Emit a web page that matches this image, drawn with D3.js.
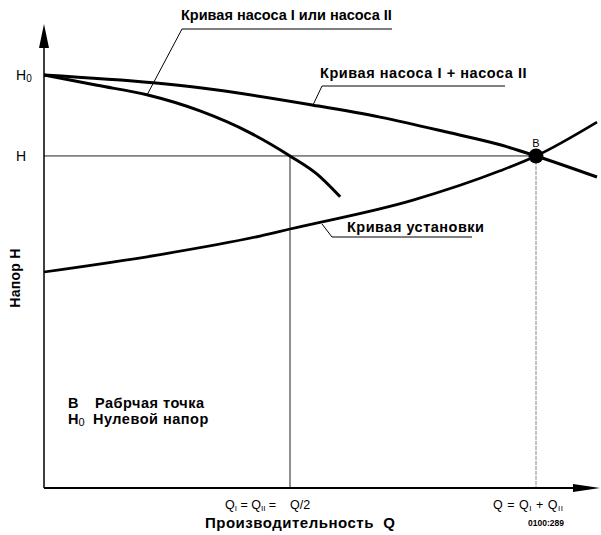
<!DOCTYPE html>
<html><head><meta charset="utf-8">
<script src="https://cdn.jsdelivr.net/npm/d3@7"></script>
<style>body{margin:0;background:#fff}svg{display:block}text{font-family:"Liberation Sans",Arial,sans-serif}</style>
</head><body>
<script>
// Data (Q in % of operating flow, H in % of shut-off head)
const singleQ = [0, 10.8, 20.9, 31.7, 41.9, 50, 55.5, 60.2];
const singleH = [100, 97.5, 95.2, 91.3, 86.0, 80.4, 76.0, 70.5];
const combinedQ = [0, 22.2, 31.7, 54.7, 68.3, 82.5, 92.7, 100, 112.4];
const combinedH = [100, 98.1, 96.9, 92.7, 89.8, 86.0, 83.1, 80.4, 75.3];
const systemQ = [0, 23.0, 43.9, 50, 75, 92.7, 100, 112.4];
const systemH = [52.3, 56.4, 61.0, 62.7, 69.7, 76.8, 80.4, 88.6];
const opPointQ = 100, opPointH = 80.4;
const halfQ = 50;
const headTicks = [{v:100, label:"H", sub:"0"}, {v:80.4, label:"H", sub:""}];

const W = 601, H = 535;
const svg = d3.select("body").append("svg").attr("width", W).attr("height", H);
const x = d3.scaleLinear().domain([0, 100]).range([44, 536]);
const y = d3.scaleLinear().domain([0, 100]).range([488, 75]);

const zip = (a, b) => a.map((v, i) => [v, b[i]]);
const line = d3.line().x(d => x(d[0])).y(d => y(d[1])).curve(d3.curveMonotoneX);

// reference lines
svg.append("line").attr("x1", x(0)).attr("x2", x(opPointQ)).attr("y1", y(opPointH)).attr("y2", y(opPointH))
  .attr("stroke", "#222").attr("stroke-width", 1);
svg.append("line").attr("x1", x(halfQ)).attr("x2", x(halfQ)).attr("y1", y(opPointH)).attr("y2", y(0))
  .attr("stroke", "#222").attr("stroke-width", 1);
svg.append("line").attr("x1", x(opPointQ)).attr("x2", x(opPointQ)).attr("y1", y(opPointH)).attr("y2", y(0))
  .attr("stroke", "#888").attr("stroke-width", 1).attr("stroke-dasharray", "4,1");

// axes
const xMax = x.invert(575), yMax = y.invert(46);
svg.append("line").attr("x1", x(0)).attr("x2", x(xMax)).attr("y1", y(0)).attr("y2", y(0))
  .attr("stroke", "#000").attr("stroke-width", 2);
svg.append("line").attr("x1", x(0)).attr("x2", x(0)).attr("y1", y(0)).attr("y2", y(yMax))
  .attr("stroke", "#000").attr("stroke-width", 1.5);
svg.append("path").attr("d", `M${x(xMax)-2},${y(0)-4} L600,${y(0)} L${x(xMax)-2},${y(0)+4} Z`).attr("fill", "#000");
svg.append("path").attr("d", `M${x(0)-5},${y(yMax)+2} L${x(0)},24 L${x(0)+5},${y(yMax)+2} Z`).attr("fill", "#000");

// curves
svg.append("path").attr("d", line(zip(singleQ, singleH))).attr("fill", "none").attr("stroke", "#000").attr("stroke-width", 3);
svg.append("path").attr("d", line(zip(combinedQ, combinedH))).attr("fill", "none").attr("stroke", "#000").attr("stroke-width", 3);
svg.append("path").attr("d", line(zip(systemQ, systemH))).attr("fill", "none").attr("stroke", "#000").attr("stroke-width", 2.7);

// operating point
svg.append("circle").attr("cx", x(opPointQ)).attr("cy", y(opPointH)).attr("r", 7.5).attr("fill", "#000");
svg.append("text").attr("x", x(opPointQ)).attr("y", 147).attr("text-anchor", "middle").attr("font-size", 11).text("B");

// leader lines
function leader(pts){ svg.append("path").attr("d", d3.line()(pts)).attr("fill","none").attr("stroke","#000").attr("stroke-width",1); }
leader([[392, 29], [182, 29], [147, 95]]);
leader([[505, 86], [322, 86], [313, 105]]);
leader([[472, 237], [332, 237], [322, 224]]);

// curve labels
svg.append("text").attr("x", 181).attr("y", 20).attr("font-size", 14.5).attr("font-weight", "bold").text("Кривая насоса I или насоса II");
svg.append("text").attr("x", 320).attr("y", 78).attr("font-size", 14.5).attr("letter-spacing", 0.55).attr("font-weight", "bold").text("Кривая насоса I + насоса II");
svg.append("text").attr("x", 347).attr("y", 232).attr("font-size", 14.5).attr("letter-spacing", 0.5).attr("font-weight", "bold").text("Кривая установки");

// y tick labels
headTicks.forEach(t => {
  const g = svg.append("text").attr("x", 16).attr("y", y(t.v) + 5).attr("font-size", 14);
  g.append("tspan").text(t.label);
  if (t.sub) g.append("tspan").attr("font-size", 10).attr("dy", 2).text(t.sub);
});

// x tick labels
const t1 = svg.append("text").attr("x", 225).attr("y", 509).attr("font-size", 12.5).attr("xml:space", "preserve");
t1.append("tspan").text("Q");
t1.append("tspan").attr("font-size", 8).attr("dy", 2).text("I");
t1.append("tspan").attr("dy", -2).text(" = Q");
t1.append("tspan").attr("font-size", 8).attr("dy", 2).text("II");
t1.append("tspan").attr("dy", -2).text(" =    Q/2");
const t2 = svg.append("text").attr("x", 493).attr("y", 509).attr("font-size", 12.5).attr("letter-spacing", 0.5);
t2.append("tspan").text("Q = Q");
t2.append("tspan").attr("font-size", 8).attr("dy", 2).text("I");
t2.append("tspan").attr("dy", -2).text(" + Q");
t2.append("tspan").attr("font-size", 8).attr("dy", 2).text("II");

// axis titles
svg.append("text").attr("x", 205).attr("y", 528).attr("font-size", 15).attr("letter-spacing", 0.5).attr("font-weight", "bold").attr("xml:space", "preserve").text("Производительность  Q");
svg.append("text").attr("transform", "translate(20,278) rotate(-90)").attr("text-anchor", "middle")
  .attr("font-size", 14).attr("letter-spacing", 0.3).attr("font-weight", "bold").text("Напор H");

// legend
svg.append("text").attr("x", 68).attr("y", 408).attr("font-size", 14.5).attr("font-weight", "bold").text("B");
svg.append("text").attr("x", 95).attr("y", 408).attr("font-size", 14.5).attr("letter-spacing", 0.5).attr("font-weight", "bold").text("Рабрчая точка");
const l2 = svg.append("text").attr("x", 68).attr("y", 424).attr("font-size", 14.5).attr("font-weight", "bold");
l2.append("tspan").text("H");
l2.append("tspan").attr("font-size", 11).attr("dy", 2).attr("font-weight", "normal").text("0");
svg.append("text").attr("x", 93).attr("y", 424).attr("font-size", 14.5).attr("letter-spacing", 0.5).attr("font-weight", "bold").text("Нулевой напор");

svg.append("text").attr("x", 528).attr("y", 526).attr("font-size", 8.5).attr("font-weight", "bold").text("0100:289");
</script>
</body></html>
